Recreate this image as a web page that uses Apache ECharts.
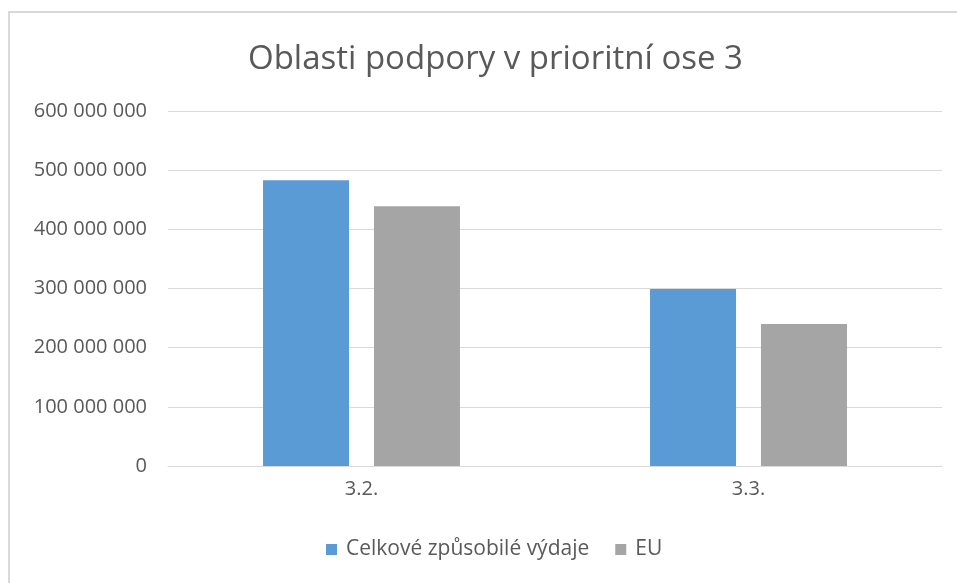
<!DOCTYPE html>
<html>
<head>
<meta charset="utf-8">
<script src="https://cdn.jsdelivr.net/npm/echarts@6/dist/echarts.min.js"></script>
<style>
  html, body { margin: 0; padding: 0; background: #fff; }
  #frame {
    position: absolute; left: 8px; top: 11px;
    width: 960px; height: 600px;
    border: 2px solid #d9d9d9; box-sizing: border-box;
  }
  #chart { position: absolute; left: 0; top: 0; width: 957px; height: 583px; }
</style>
</head>
<body>
<div id="frame"></div>
<div id="chart"></div>
<script>
  var categories = ['3.2.', '3.3.']
  var seriesNames = ['Celkové způsobilé výdaje', 'EU']
  var totalValues = [483000000, 299000000]
  var euValues = [439000000, 240000000]

  var font = '"Open Sans", "Liberation Sans", sans-serif'
  // mezery jako oddělovač tisíců
  function fmt (v) {
    return String(v).replace(/\B(?=(\d{3})+(?!\d))/g, ' ')
  }

  var myChart = echarts.init(document.getElementById('chart'))
  myChart.setOption({
    animation: false,
    title: {
      text: 'Oblasti podpory v prioritní ose 3',
      left: 243,
      top: 38,
      textStyle: { fontFamily: font, fontSize: 33, fontWeight: 'normal', color: '#595959' }
    },
    legend: {
      bottom: 18,
      left: 321,
      itemWidth: 11,
      itemHeight: 11,
      itemGap: 26,
      icon: 'rect',
      textStyle: { fontFamily: font, fontSize: 21, color: '#595959', padding: [0, 0, 0, 4] },
      data: seriesNames
    },
    grid: { left: 168, right: 15, top: 111, bottom: 117 },
    xAxis: {
      type: 'category',
      data: categories,
      axisLine: { lineStyle: { color: '#d9d9d9' } },
      axisTick: { show: false },
      axisLabel: { fontFamily: font, fontSize: 20, color: '#595959', margin: 13 }
    },
    yAxis: {
      type: 'value',
      min: 0,
      max: 600000000,
      interval: 100000000,
      axisLine: { show: false },
      axisTick: { show: false },
      splitLine: { lineStyle: { color: '#d9d9d9' } },
      axisLabel: { fontFamily: font, fontSize: 20, color: '#595959', margin: 21, formatter: fmt }
    },
    series: [
      {
        name: seriesNames[0],
        type: 'bar',
        data: totalValues,
        barWidth: 86,
        barGap: '29%',
        itemStyle: { color: '#5b9bd5' }
      },
      {
        name: seriesNames[1],
        type: 'bar',
        data: euValues,
        barWidth: 86,
        itemStyle: { color: '#a5a5a5' }
      }
    ]
  })
</script>
</body>
</html>
